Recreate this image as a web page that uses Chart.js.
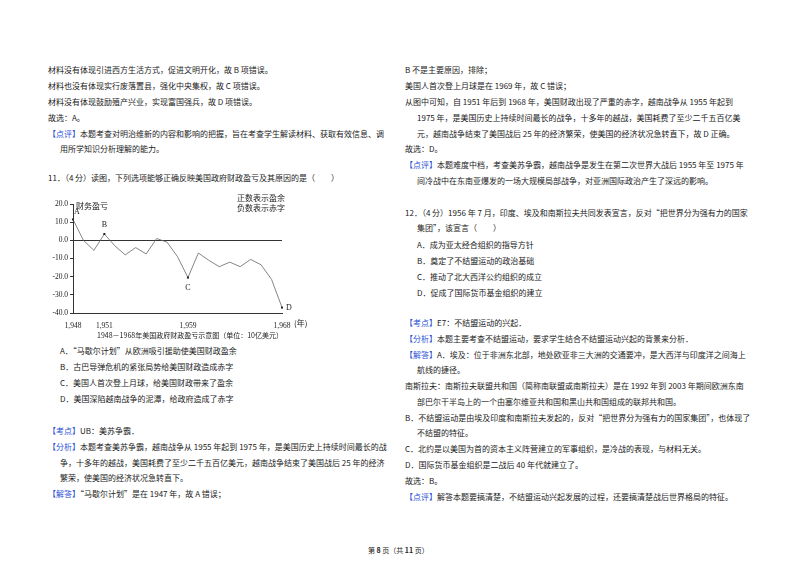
<!DOCTYPE html>
<html><head><meta charset="utf-8">
<script src="https://cdn.jsdelivr.net/npm/chart.js@4/dist/chart.umd.min.js"></script>
<style>
body{margin:0;background:#fff;width:800px;height:565px;position:relative;overflow:hidden;font-family:"Noto Sans CJK SC",sans-serif;font-size:8px;color:#222}
.l{position:absolute;white-space:nowrap;line-height:12px}
.b{color:#2b4fd6}
#wrap{position:absolute;left:30px;top:190px;width:290px;height:155px}
</style></head><body>
<div id="wrap"><canvas id="c"></canvas></div>
<script>
// --- Data ---
const years = [1948,1949,1950,1951,1952,1953,1954,1955,1956,1957,1958,1959,1960,1961,1962,1963,1964,1965,1966,1967,1968];
const balance = [11.5,0,-5.5,3.5,-3,-8,-4,-7.5,1,-1,-9,-20.5,-7,-11,-14.5,-12,-14.5,-10.5,-13.5,-21.5,-37];
const xTicks = [1948,1951,1959,1968];
const yTicks = [20,10,0,-10,-20,-30,-40];
const marks = [{year:1948,t:'A',dx:4,dy:-8},{year:1951,t:'B',dx:0,dy:-9},{year:1959,t:'C',dx:0,dy:10},{year:1968,t:'D',dx:7,dy:0}];

// --- Page text ---
const lines = [
  [48,64,'材料没有体现引进西方生活方式，促进文明开化，故 B 项错误。'],
  [48,80,'材料也没有体现实行废落置县，强化中央集权，故 C 项错误。'],
  [48,96,'材料没有体现鼓励殖产兴业，实现富国强兵，故 D 项错误。'],
  [48,112,'故选：A。'],
  [48,128,'<span class="b">【点评】</span>本题考查对明治维新的内容和影响的把握，旨在考查学生解读材料、获取有效信息、调'],
  [60,143,'用所学知识分析理解的能力。'],
  [48,172,'11．（4 分）读图，下列选项能够正确反映美国政府财政盈亏及其原因的是（　　）'],
  [60,345,'A．“马歇尔计划”从欧洲吸引援助使美国财政盈余'],
  [60,361,'B．古巴导弹危机的紧张局势给美国财政造成赤字'],
  [60,377,'C．美国人首次登上月球，给美国财政带来了盈余'],
  [60,393,'D．美国深陷越南战争的泥潭，给政府造成了赤字'],
  [48,425,'<span class="b">【考点】</span>UB：美苏争霸．'],
  [48,441,'<span class="b">【分析】</span>本题考查美苏争霸，越南战争从 1955 年起到 1975 年，是美国历史上持续时间最长的战'],
  [60,457,'争，十多年的越战，美国耗费了至少二千五百亿美元，越南战争结束了美国战后 25 年的经济'],
  [60,472,'繁荣，使美国的经济状况急转直下。'],
  [48,488,'<span class="b">【解答】</span>“马歇尔计划”是在 1947 年，故 A 错误；'],
  [405,64,'B 不是主要原因，排除；'],
  [405,80,'美国人首次登上月球是在 1969 年，故 C 错误；'],
  [405,96,'从图中可知，自 1951 年后到 1968 年，美国财政出现了严重的赤字，越南战争从 1955 年起到'],
  [417,112,'1975 年，是美国历史上持续时间最长的战争，十多年的越战，美国耗费了至少二千五百亿美'],
  [417,128,'元，越南战争结束了美国战后 25 年的经济繁荣，使美国的经济状况急转直下，故 D 正确。'],
  [405,143,'故选：D。'],
  [405,159,'<span class="b">【点评】</span>本题难度中档，考查美苏争霸，越南战争是发生在第二次世界大战后 1955 年至 1975 年'],
  [417,175,'间冷战中在东南亚爆发的一场大规模局部战争，对亚洲国际政治产生了深远的影响。'],
  [405,207,'12．（4 分）1956 年 7 月，印度、埃及和南斯拉夫共同发表宣言，反对“把世界分为强有力的国家'],
  [417,222,'集团”，该宣言（　　）'],
  [417,239,'A．成为亚太经合组织的指导方针'],
  [417,255,'B．奠定了不结盟运动的政治基础'],
  [417,271,'C．推动了北大西洋公约组织的成立'],
  [417,287,'D．促成了国际货币基金组织的建立'],
  [405,317,'<span class="b">【考点】</span>E7：不结盟运动的兴起．'],
  [405,333,'<span class="b">【分析】</span>本题主要考查不结盟运动，要求学生结合不结盟运动兴起的背景来分析．'],
  [405,349,'<span class="b">【解答】</span>A．埃及：位于非洲东北部，地处欧亚非三大洲的交通要冲，是大西洋与印度洋之间海上'],
  [417,364,'航线的捷径。'],
  [405,380,'南斯拉夫：南斯拉夫联盟共和国（简称南联盟或南斯拉夫）是在 1992 年到 2003 年期间欧洲东南'],
  [417,396,'部巴尔干半岛上的一个由塞尔维亚共和国和黑山共和国组成的联邦共和国。'],
  [405,412,'B．不结盟运动是由埃及印度和南斯拉夫发起的，反对“把世界分为强有力的国家集团”，也体现了'],
  [417,427,'不结盟的特征。'],
  [405,443,'C．北约是以美国为首的资本主义阵营建立的军事组织，是冷战的表现，与材料无关。'],
  [405,459,'D．国际货币基金组织是二战后 40 年代就建立了。'],
  [405,475,'故选：B。'],
  [405,491,'<span class="b">【点评】</span>解答本题要搞清楚，不结盟运动兴起发展的过程，还要搞清楚战后世界格局的特征。'],
  [368,544,'第 <b>8</b> 页（共 <b>11</b> 页）']
];
lines.forEach(([x, y, h]) => {
  const d = document.createElement('div');
  d.className = 'l';
  d.style.left = x + 'px';
  d.style.top = y + 'px';
  if (y === 544) d.style.fontSize = '7px';
  d.innerHTML = h;
  document.body.appendChild(d);
});

// --- Chart labels plugin ---
const labels = {
  id: 'labels',
  afterDatasetsDraw(chart) {
    const {ctx, scales: {x, y}} = chart;
    ctx.save();
    ctx.fillStyle = '#222';
    ctx.font = '8px "Liberation Serif", serif';
    ctx.textAlign = 'center';
    ctx.textBaseline = 'middle';
    marks.forEach(m => {
      const v = balance[years.indexOf(m.year)];
      const px = x.getPixelForValue(m.year), py = y.getPixelForValue(v);
      ctx.fillRect(px - 1, py - 1, 2, 2);
      ctx.fillText(m.t, px + m.dx, py + m.dy);
    });
    ctx.font = '8px "Noto Sans CJK SC"';
    ctx.textAlign = 'left';
    ctx.fillText('财务盈亏', x.left + 3, y.top + 2);
    ctx.fillText('正数表示盈余', 207, 8);
    ctx.fillText('负数表示赤字', 207, 18);
    ctx.fillText('(年)', x.right + 12, y.bottom + 10);
    ctx.textAlign = 'center';
    ctx.font = '7px "Noto Sans CJK SC"';
    ctx.fillText('1948－1968年美国政府财政盈亏示意图（单位：10亿美元）', 160, 145);
    ctx.restore();
  }
};

new Chart(document.getElementById('c'), {
  type: 'line',
  data: {
    datasets: [{
      data: years.map((yr, i) => ({x: yr, y: balance[i]})),
      borderColor: '#666',
      borderWidth: 0.8,
      pointRadius: 0,
      tension: 0
    }]
  },
  options: {
    responsive: true,
    maintainAspectRatio: false,
    animation: false,
    layout: {padding: {left: 0, right: 38, top: 14, bottom: 0}},
    plugins: {legend: {display: false}, tooltip: {enabled: false}},
    scales: {
      x: {
        type: 'linear', min: 1948, max: 1968,
        afterBuildTicks: s => { s.ticks = xTicks.map(v => ({value: v})); },
        afterFit: s => { s.height = 32; },
        grid: {display: false, drawTicks: true},
        border: {color: '#333', width: 1},
        ticks: {color: '#222', font: {size: 7.5, family: 'Liberation Serif'}, padding: 1, autoSkip: false, maxRotation: 0}
      },
      y: {
        min: -40, max: 20,
        afterBuildTicks: s => { s.ticks = yTicks.map(v => ({value: v})); },
        afterFit: s => { s.width = 43; },
        grid: {color: c => c.tick.value === 0 ? '#333' : 'transparent', tickLength: 3, tickColor: '#333', lineWidth: 1},
        border: {color: '#333', width: 1},
        ticks: {color: '#222', font: {size: 7.5, family: 'Liberation Serif'}, padding: 2, callback: v => v.toFixed(1)}
      }
    }
  },
  plugins: [labels]
});
</script>
</body></html>
